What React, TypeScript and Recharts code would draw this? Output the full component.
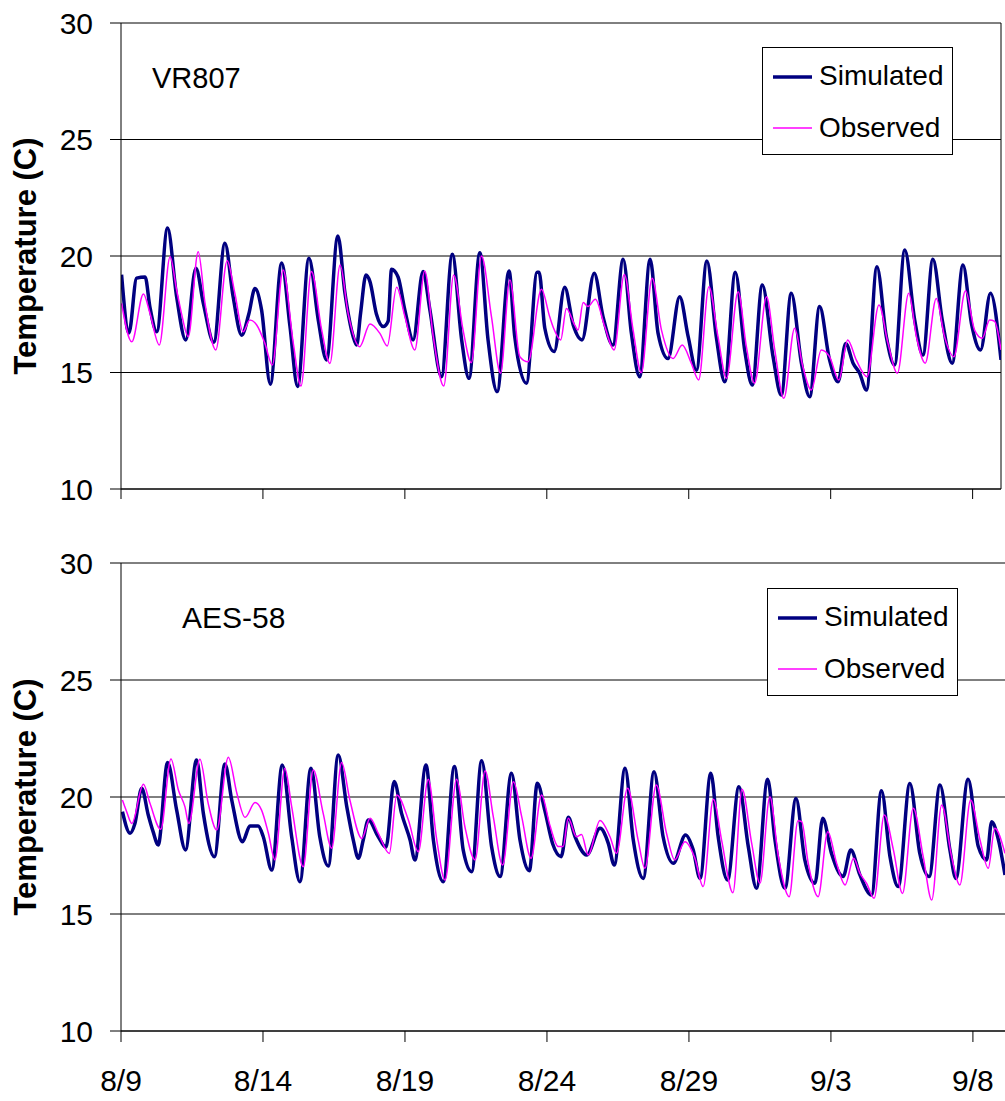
import React from 'react';
import { LineChart, Line, XAxis, YAxis, CartesianGrid, ReferenceLine } from 'recharts';

const FONT = '"Liberation Sans", Arial, Helvetica, sans-serif';
const NAVY = '#000080';
const MAGENTA = '#FF00FF';

const xTickValues = [0, 5, 10, 15, 20, 25, 30];
const xTickLabels = ['8/9', '8/14', '8/19', '8/24', '8/29', '9/3', '9/8'];
const yTicks = [10, 15, 20, 25, 30];
const seriesNames = ['Simulated', 'Observed'];
const panelNames = ['VR807', 'AES-58'];
const yLabel = 'Temperature (C)';

// VR807 (top) — days since 8/9, temperature (C)
const vrSimDays = [0.02, 0.28, 0.55, 0.85, 1.02, 1.26, 1.64, 1.96, 2.28, 2.64, 2.9, 3.27, 3.66, 3.95, 4.25, 4.5, 4.72, 4.95, 5.26, 5.66, 5.95, 6.22, 6.62, 6.95, 7.24, 7.64, 7.89, 8.18, 8.3, 8.44, 8.63, 8.77, 9.0, 9.24, 9.41, 9.53, 9.76, 10.0, 10.29, 10.64, 10.88, 11.29, 11.67, 12.0, 12.26, 12.64, 12.93, 13.25, 13.67, 13.87, 14.28, 14.66, 14.73, 14.93, 15.26, 15.63, 15.93, 16.24, 16.67, 16.98, 17.33, 17.69, 17.98, 18.27, 18.64, 18.92, 19.27, 19.68, 19.98, 20.27, 20.64, 20.97, 21.27, 21.64, 21.97, 22.24, 22.59, 22.97, 23.26, 23.61, 23.97, 24.26, 24.61, 24.96, 25.26, 25.53, 25.79, 26.02, 26.26, 26.63, 26.96, 27.25, 27.61, 27.96, 28.25, 28.6, 28.93, 29.28, 29.66, 29.96, 30.28, 30.63, 31.0];
const vrSimTemps = [19.2, 16.7, 19.05, 19.1, 17.8, 16.75, 21.2, 18.25, 16.4, 19.47, 17.97, 16.3, 20.55, 18.25, 16.6, 17.5, 18.6, 17.7, 14.5, 19.7, 17.0, 14.4, 19.9, 17.25, 15.54, 20.86, 18.4, 16.54, 16.18, 17.54, 19.18, 18.9, 17.5, 16.97, 17.2, 19.43, 19.1, 17.68, 16.4, 19.33, 17.7, 14.82, 20.07, 16.4, 14.75, 20.14, 16.4, 14.18, 19.36, 16.54, 14.54, 19.3, 19.3, 16.9, 15.9, 18.66, 17.04, 16.4, 19.26, 17.4, 16.18, 19.86, 16.68, 14.82, 19.86, 16.68, 15.6, 18.25, 16.54, 15.1, 19.79, 16.54, 14.6, 19.3, 15.97, 14.46, 18.76, 15.68, 14.03, 18.4, 15.4, 13.96, 17.83, 15.54, 14.6, 16.25, 15.4, 14.97, 14.25, 19.54, 16.54, 15.32, 20.26, 17.25, 15.75, 19.86, 17.25, 15.4, 19.61, 17.1, 15.97, 18.4, 15.54];
const vrObsDays = [0.02, 0.38, 0.79, 1.02, 1.35, 1.73, 1.96, 2.13, 2.37, 2.72, 2.96, 3.34, 3.74, 4.01, 4.3, 4.54, 4.78, 5.07, 5.33, 5.71, 6.07, 6.34, 6.71, 7.07, 7.36, 7.72, 8.0, 8.41, 8.77, 9.12, 9.38, 9.71, 10.0, 10.35, 10.7, 11.0, 11.37, 11.72, 12.05, 12.34, 12.7, 13.05, 13.37, 13.7, 14.05, 14.34, 14.81, 15.1, 15.24, 15.49, 15.69, 15.98, 16.1, 16.28, 16.45, 16.71, 17.04, 17.37, 17.73, 18.04, 18.33, 18.71, 19.04, 19.45, 19.77, 20.09, 20.35, 20.71, 21.03, 21.33, 21.74, 22.03, 22.32, 22.74, 23.03, 23.35, 23.73, 24.02, 24.32, 24.67, 24.96, 25.29, 25.6, 25.9, 26.28, 26.7, 27.02, 27.35, 27.75, 28.02, 28.33, 28.72, 29.01, 29.34, 29.75, 30.07, 30.34, 30.6, 30.77, 31.0];
const vrObsTemps = [17.97, 16.32, 18.37, 17.54, 16.18, 19.97, 18.54, 17.54, 16.54, 20.18, 17.97, 15.97, 19.8, 18.4, 16.75, 17.25, 17.04, 16.25, 15.32, 19.4, 16.25, 14.42, 19.33, 16.82, 15.39, 19.61, 17.54, 16.11, 17.08, 16.68, 16.14, 18.66, 17.4, 15.97, 19.36, 16.54, 14.42, 19.18, 16.82, 15.42, 20.0, 17.4, 14.97, 18.97, 15.68, 15.46, 18.57, 17.4, 16.9, 16.4, 17.75, 17.04, 16.82, 18.0, 17.83, 18.14, 16.97, 15.97, 19.21, 16.82, 14.99, 19.04, 16.82, 15.6, 16.18, 15.4, 14.68, 18.68, 16.54, 14.75, 18.47, 16.11, 14.54, 18.25, 15.97, 13.89, 16.9, 15.25, 14.25, 15.97, 15.68, 14.68, 16.4, 15.54, 14.82, 17.9, 16.25, 14.97, 18.4, 16.54, 15.4, 18.18, 16.54, 15.68, 18.51, 16.82, 16.47, 17.25, 17.2, 15.97];

// AES-58 (bottom)
const aesSimDays = [0.05, 0.32, 0.49, 0.73, 0.96, 1.13, 1.31, 1.64, 1.96, 2.27, 2.66, 2.9, 3.29, 3.66, 3.9, 4.28, 4.54, 4.83, 5.01, 5.31, 5.68, 6.01, 6.3, 6.69, 7.0, 7.3, 7.65, 7.95, 8.18, 8.36, 8.53, 8.71, 9.06, 9.33, 9.62, 9.88, 10.18, 10.35, 10.74, 11.0, 11.35, 11.74, 12.05, 12.35, 12.7, 13.05, 13.35, 13.75, 14.05, 14.38, 14.66, 14.93, 15.2, 15.5, 15.75, 15.99, 16.4, 16.87, 17.16, 17.37, 17.75, 18.04, 18.39, 18.77, 19.09, 19.45, 19.88, 20.15, 20.39, 20.77, 21.03, 21.36, 21.76, 22.09, 22.38, 22.77, 23.03, 23.38, 23.77, 24.08, 24.44, 24.71, 25.02, 25.43, 25.7, 26.02, 26.43, 26.78, 27.08, 27.37, 27.78, 28.13, 28.46, 28.84, 29.19, 29.4, 29.83, 30.19, 30.48, 30.66, 30.9, 31.13];
const aesSimTemps = [19.37, 18.45, 18.87, 20.37, 19.23, 18.52, 17.95, 21.47, 19.44, 17.74, 21.58, 19.3, 17.45, 21.41, 19.87, 18.09, 18.76, 18.76, 18.3, 16.88, 21.37, 18.3, 16.38, 21.23, 18.3, 17.05, 21.8, 19.59, 18.16, 17.38, 18.16, 19.02, 18.3, 17.85, 20.66, 19.3, 18.16, 17.31, 21.37, 18.16, 16.38, 21.3, 17.74, 16.81, 21.55, 17.88, 16.6, 21.01, 18.16, 16.85, 20.59, 19.4, 18.0, 17.45, 19.13, 18.3, 17.52, 18.66, 18.02, 17.09, 21.23, 18.16, 16.52, 21.08, 18.3, 17.17, 18.38, 17.74, 16.52, 21.01, 18.3, 16.45, 20.44, 17.88, 16.1, 20.76, 18.16, 16.1, 19.94, 17.31, 16.31, 19.09, 17.59, 16.6, 17.74, 16.67, 15.81, 20.27, 17.45, 16.17, 20.58, 17.59, 16.6, 20.51, 17.74, 16.52, 20.76, 17.88, 17.31, 18.94, 18.16, 16.67];
const aesObsDays = [0.05, 0.2, 0.38, 0.79, 1.02, 1.4, 1.76, 2.02, 2.25, 2.39, 2.78, 3.07, 3.37, 3.78, 4.08, 4.37, 4.72, 4.95, 5.19, 5.42, 5.77, 6.01, 6.42, 6.77, 7.12, 7.42, 7.77, 8.06, 8.48, 8.77, 9.06, 9.45, 9.71, 10.12, 10.47, 10.82, 11.12, 11.41, 11.82, 12.11, 12.47, 12.82, 13.11, 13.44, 13.82, 14.11, 14.44, 14.81, 15.1, 15.4, 15.57, 15.75, 16.04, 16.22, 16.45, 16.87, 17.22, 17.45, 17.84, 18.21, 18.45, 18.85, 19.21, 19.5, 19.86, 20.21, 20.5, 20.86, 21.15, 21.55, 21.87, 22.21, 22.5, 22.85, 23.15, 23.53, 23.84, 23.97, 24.2, 24.55, 24.89, 25.2, 25.5, 25.8, 26.02, 26.26, 26.52, 26.88, 27.2, 27.52, 27.9, 28.25, 28.55, 28.9, 29.25, 29.54, 29.92, 30.25, 30.54, 30.77, 31.13];
const aesObsTemps = [19.87, 19.37, 18.87, 20.54, 19.73, 18.62, 21.62, 20.3, 19.59, 18.87, 21.61, 19.73, 18.59, 21.7, 20.16, 19.13, 19.76, 19.44, 18.45, 17.31, 21.23, 19.59, 17.02, 21.15, 19.3, 17.81, 21.47, 19.87, 18.23, 19.09, 18.45, 17.59, 20.09, 19.02, 17.66, 20.76, 18.16, 16.45, 20.76, 18.73, 17.31, 21.12, 19.16, 17.09, 20.65, 19.16, 17.38, 20.09, 18.8, 17.88, 17.88, 19.09, 18.3, 18.4, 17.52, 19.0, 18.3, 17.59, 20.37, 18.16, 16.95, 20.51, 18.45, 17.31, 18.09, 17.38, 16.17, 19.9, 18.16, 15.91, 20.33, 18.02, 16.31, 20.01, 17.45, 15.74, 18.99, 18.95, 17.17, 15.74, 18.52, 17.17, 16.24, 17.38, 16.74, 16.3, 15.67, 19.23, 17.74, 15.88, 19.52, 17.45, 15.6, 19.66, 17.45, 16.24, 19.87, 18.16, 16.95, 18.66, 17.59];

const zip = (days: number[], temps: number[]) => days.map((d, i) => ({ d, t: temps[i] }));

type PanelProps = {
  top: number;
  height: number;
  xAxisHeight: number;
  rightMargin: number;
  xMax: number;
  showLabels: boolean;
  tickSize: number;
  sim: { d: number; t: number }[];
  obs: { d: number; t: number }[];
  border: boolean;
};

function Panel(p: PanelProps) {
  return (
    <div style={{ position: 'absolute', left: 0, top: p.top }}>
      <LineChart width={1005} height={p.height} margin={{ top: 23, right: p.rightMargin, left: 0, bottom: 0 }}>
        <CartesianGrid vertical={false} stroke="#000" strokeWidth={1} horizontalValues={yTicks} />
        <XAxis
          type="number"
          dataKey="d"
          domain={[0, p.xMax]}
          allowDataOverflow
          ticks={xTickValues}
          interval={0}
          height={p.xAxisHeight}
          tickSize={p.tickSize}
          tickMargin={28}
          stroke="#000"
          tickLine={{ stroke: '#000' }}
          axisLine={{ stroke: '#000' }}
          tick={{ fill: '#000', fontSize: 30, fontFamily: FONT }}
          tickFormatter={(v: number) => (p.showLabels ? xTickLabels[xTickValues.indexOf(v)] : '')}
        />
        <YAxis
          type="number"
          domain={[10, 30]}
          ticks={yTicks}
          interval={0}
          width={121}
          tickSize={11}
          tickMargin={17}
          stroke="#000"
          tickLine={{ stroke: '#000' }}
          axisLine={{ stroke: '#000' }}
          tick={{ fill: '#000', fontSize: 30, fontFamily: FONT }}
        />
        {p.border && <ReferenceLine x={p.xMax} stroke="#000" strokeWidth={1} />}
        <Line data={p.sim} dataKey="t" type="monotone" stroke={NAVY} strokeWidth={3.5} dot={false} isAnimationActive={false} />
        <Line data={p.obs} dataKey="t" type="monotone" stroke={MAGENTA} strokeWidth={1.5} dot={false} isAnimationActive={false} />
      </LineChart>
    </div>
  );
}

function LegendBox({ x, y }: { x: number; y: number }) {
  return (
    <g>
      <rect x={x + 0.5} y={y + 0.5} width={190} height={107} fill="#fff" stroke="#000" strokeWidth={1} />
      <line x1={x + 11} x2={x + 50} y1={y + 30} y2={y + 30} stroke={NAVY} strokeWidth={3.5} />
      <text x={x + 57} y={y + 38} fontSize={28} fontFamily={FONT} fill="#000">{seriesNames[0]}</text>
      <line x1={x + 11} x2={x + 50} y1={y + 81} y2={y + 81} stroke={MAGENTA} strokeWidth={1.5} />
      <text x={x + 57} y={y + 90} fontSize={28} fontFamily={FONT} fill="#000">{seriesNames[1]}</text>
    </g>
  );
}

export default function App() {
  return (
    <div style={{ position: 'absolute', left: 0, top: 0, width: 1005, height: 1101, background: '#fff', overflow: 'hidden' }}>
      <Panel top={0} height={520} xAxisHeight={31} rightMargin={4} xMax={31} showLabels={false} tickSize={10}
        sim={zip(vrSimDays, vrSimTemps)} obs={zip(vrObsDays, vrObsTemps)} border />
      <Panel top={540} height={561} xAxisHeight={70} rightMargin={0} xMax={31.13} showLabels tickSize={11}
        sim={zip(aesSimDays, aesSimTemps)} obs={zip(aesObsDays, aesObsTemps)} border={false} />
      <svg width={1005} height={1101} style={{ position: 'absolute', left: 0, top: 0, pointerEvents: 'none' }}>
        <text transform="translate(36,256) rotate(-90)" textAnchor="middle" fontSize={31} fontWeight="bold" fontFamily={FONT} fill="#000">{yLabel}</text>
        <text transform="translate(36,797) rotate(-90)" textAnchor="middle" fontSize={31} fontWeight="bold" fontFamily={FONT} fill="#000">{yLabel}</text>
        <text x={152} y={88} fontSize={29} fontFamily={FONT} fill="#000">{panelNames[0]}</text>
        <text x={182} y={628} fontSize={30} fontFamily={FONT} fill="#000">{panelNames[1]}</text>
        <LegendBox x={762} y={47} />
        <LegendBox x={767} y={588} />
      </svg>
    </div>
  );
}
